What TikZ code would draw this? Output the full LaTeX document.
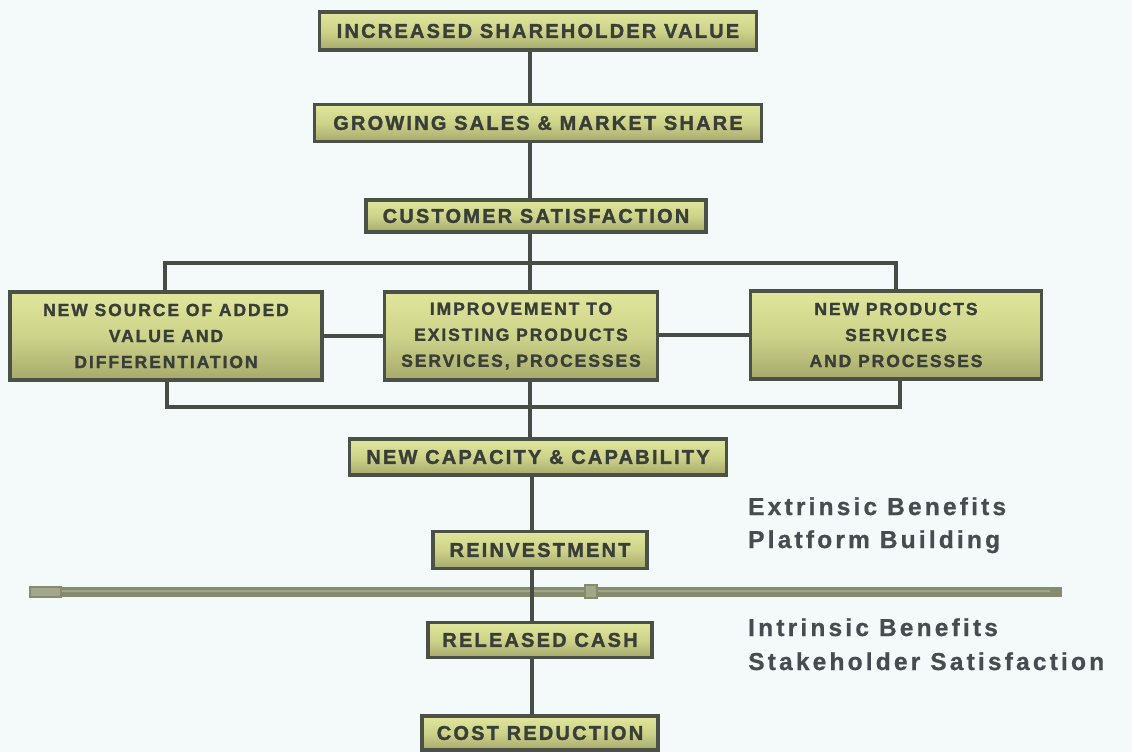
\documentclass[tikz,border=0pt]{standalone}
\usepackage{fontspec}
\setmainfont{Liberation Sans}
\newfontfamily\boxfamily[LetterSpace=11,FakeBold=1.6]{Liberation Sans}
\newfontfamily\sidefamily[LetterSpace=13,FakeBold=0.8]{Liberation Sans}
\definecolor{bgc}{HTML}{F4FAFA}
\definecolor{linec}{HTML}{474C46}
\definecolor{borderc}{HTML}{4C5148}
\definecolor{boxtop}{HTML}{E0E79C}
\definecolor{boxmid}{HTML}{CDD48A}
\definecolor{boxbot}{HTML}{A6AA6C}
\definecolor{txtc}{HTML}{393E39}
\definecolor{sidec}{HTML}{474B52}
\definecolor{bandc}{HTML}{868B6D}
\definecolor{bandhi}{HTML}{A3A78A}
\tikzset{
  stagebox/.style={draw=borderc, line width=3.2pt, top color=boxtop, bottom color=boxbot, middle color=boxmid,
    inner sep=0pt, align=center, text=txtc, font=\boxfamily\bfseries\fontsize{20}{26}\selectfont},
  multibox/.style={stagebox, font=\boxfamily\bfseries\fontsize{17.5}{26}\selectfont},
  conn/.style={draw=linec, line width=3.6pt},
  sidelabel/.style={anchor=base west, inner sep=0pt, text=sidec, font=\sidefamily\bfseries\fontsize{24.5}{30}\selectfont}
}
\begin{document}
\begin{tikzpicture}[x=1pt,y=-1pt]
\fill[bgc] (0,0) rectangle (1132,752);
\useasboundingbox (0,0) rectangle (1132,752);

% trunk coordinates
\coordinate (tx) at (530,0);
\coordinate (bx) at (532,0);

% band
\fill[bandc] (30,587) rectangle (1062,597);
\fill[bandhi] (62,590) rectangle (1050,592);
\draw[fill=bandhi, draw=bandc, line width=1.2pt] (30,587) rectangle (61,597);
\draw[fill=bandhi, draw=bandc, line width=1.2pt] (585,585) rectangle (597,598);

% nodes
\node[stagebox, minimum width=437pt, minimum height=38pt] (sv) at (538,31) {INCREASED SHAREHOLDER VALUE};
\node[stagebox, minimum width=447pt, minimum height=37pt] (gs) at (538,123) {GROWING SALES \& MARKET SHARE};
\node[stagebox, minimum width=340pt, minimum height=32pt] (cs) at (536,216) {CUSTOMER SATISFACTION};
\node[multibox, minimum width=312pt, minimum height=88pt] (lb) at (166,336) {NEW SOURCE OF ADDED\\VALUE AND\\DIFFERENTIATION};
\node[multibox, minimum width=273pt, minimum height=88pt] (mb) at (521,336) {IMPROVEMENT TO\\EXISTING PRODUCTS\\SERVICES, PROCESSES};
\node[multibox, minimum width=291pt, minimum height=88pt] (rb) at (896,335) {NEW PRODUCTS\\SERVICES\\AND PROCESSES};
\node[stagebox, minimum width=377pt, minimum height=36pt] (nc) at (538,457) {NEW CAPACITY \& CAPABILITY};
\node[stagebox, minimum width=214pt, minimum height=37pt] (ri) at (540,550) {REINVESTMENT};
\node[stagebox, minimum width=224pt, minimum height=35pt] (rc) at (540,640) {RELEASED CASH};
\node[stagebox, minimum width=236pt, minimum height=34pt] (cr) at (540,733) {COST REDUCTION};

% bus coordinates
\coordinate (tbl) at (165,263);
\coordinate (tbr) at (896,263);
\coordinate (bbl) at (167,407);
\coordinate (bbr) at (900,407);

% connectors
\draw[conn] (sv.south -| tx) -- (gs.north -| tx);
\draw[conn] (gs.south -| tx) -- (cs.north -| tx);
\draw[conn] (cs.south -| tx) -- (mb.north -| tx);
\draw[conn] (mb.south -| tx) -- (nc.north -| tx);
\draw[conn] (lb.north -| tbl) -- (tbl) -- (tbr) -- (rb.north -| tbr);
\draw[conn] (lb.south -| bbl) -- (bbl) -- (bbr) -- (rb.south -| bbr);
\draw[conn] (lb.east) -- (mb.west);
\draw[conn] (mb.east |- rb.west) -- (rb.west);
\draw[conn] (nc.south -| bx) -- (ri.north -| bx);
\draw[conn] (ri.south -| bx) -- (rc.north -| bx);
\draw[conn] (rc.south -| bx) -- (cr.north -| bx);

% side labels
\node[sidelabel] (ext) at (748,515) {Extrinsic Benefits};
\node[sidelabel] (plat) at (748,548) {Platform Building};
\node[sidelabel] (intr) at (748,636) {Intrinsic Benefits};
\node[sidelabel] (stak) at (748,670) {Stakeholder Satisfaction};
\end{tikzpicture}
\end{document}
